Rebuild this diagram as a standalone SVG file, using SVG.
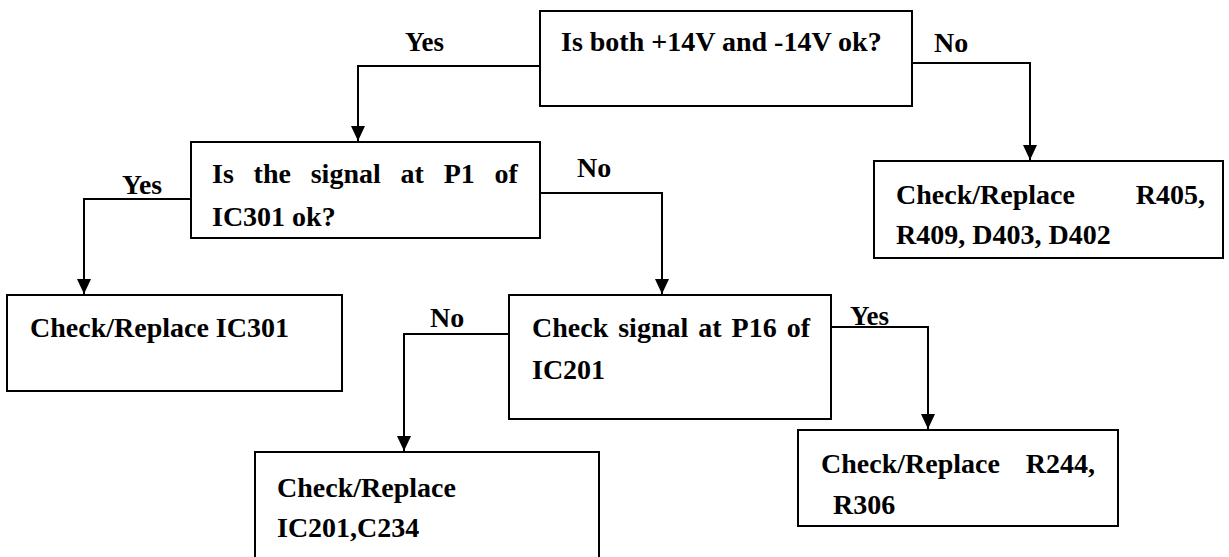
<svg xmlns="http://www.w3.org/2000/svg" width="1229" height="557" viewBox="0 0 1229 557">
<style>
  .box { fill: #ffffff; stroke: #000000; stroke-width: 2; }
  .t { font-family: "Liberation Serif", "Times New Roman", serif; font-weight: bold; font-size: 28px; fill: #000000; }
  .conn { fill: none; stroke: #000000; stroke-width: 2; }
</style>
<defs>
  <marker id="arrow" markerUnits="userSpaceOnUse" markerWidth="16" markerHeight="16" viewBox="0 0 16 16" refX="15" refY="8" orient="auto">
    <path d="M0,1 L15,8 L0,15 Z" fill="#000000"/>
  </marker>
</defs>
<rect width="1229" height="557" fill="#ffffff"/>

<g id="connectors">
  <path class="conn" d="M540,66 H358 V141" marker-end="url(#arrow)"/>
  <path class="conn" d="M912,63 H1030 V160" marker-end="url(#arrow)"/>
  <path class="conn" d="M191,199 H84 V294" marker-end="url(#arrow)"/>
  <path class="conn" d="M540,193 H662 V294" marker-end="url(#arrow)"/>
  <path class="conn" d="M509,334 H404 V451" marker-end="url(#arrow)"/>
  <path class="conn" d="M831,327 H928 V429" marker-end="url(#arrow)"/>
  <text class="t" x="405" y="51" textLength="39" lengthAdjust="spacingAndGlyphs">Yes</text>
  <text class="t" x="934" y="52">No</text>
  <text class="t" x="122" y="194" textLength="40" lengthAdjust="spacingAndGlyphs">Yes</text>
  <text class="t" x="577" y="177">No</text>
  <text class="t" x="430" y="327">No</text>
  <text class="t" x="850" y="325" textLength="39" lengthAdjust="spacingAndGlyphs">Yes</text>
</g>

<g id="n1">
  <rect class="box" x="540" y="11" width="372" height="95"/>
  <text class="t" x="561" y="51">Is both +14V and -14V ok?</text>
</g>

<g id="n2">
  <rect class="box" x="191" y="142" width="349" height="96"/>
  <text class="t" x="212" y="183" word-spacing="12.8">Is the signal at P1 of</text>
  <text class="t" x="212" y="226">IC301 ok?</text>
</g>

<g id="n3">
  <rect class="box" x="874" y="161" width="349" height="97"/>
  <text class="t" x="896" y="204">Check/Replace</text>
  <text class="t" x="1205" y="204" text-anchor="end">R405,</text>
  <text class="t" x="896" y="244">R409, D403, D402</text>
</g>

<g id="n4">
  <rect class="box" x="7" y="295" width="335" height="96"/>
  <text class="t" x="30" y="337">Check/Replace IC301</text>
</g>

<g id="n5">
  <rect class="box" x="509" y="295" width="322" height="124"/>
  <text class="t" x="532" y="337" word-spacing="3">Check signal at P16 of</text>
  <text class="t" x="532" y="379">IC201</text>
</g>

<g id="n6">
  <rect class="box" x="798" y="430" width="320" height="96"/>
  <text class="t" x="821" y="473">Check/Replace</text>
  <text class="t" x="1095" y="473" text-anchor="end">R244,</text>
  <text class="t" x="833" y="514">R306</text>
</g>

<g id="n7">
  <rect class="box" x="255" y="452" width="344" height="130"/>
  <text class="t" x="277" y="497">Check/Replace</text>
  <text class="t" x="277" y="537">IC201,C234</text>
</g>
</svg>
